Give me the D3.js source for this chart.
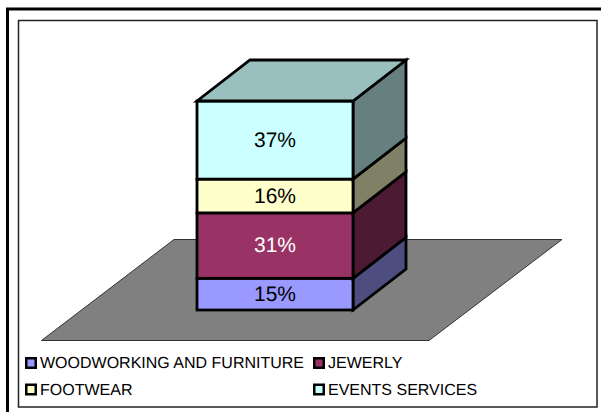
<!DOCTYPE html>
<html><head><meta charset="utf-8">
<script src="https://cdn.jsdelivr.net/npm/d3@7"></script>
<style>html,body{margin:0;padding:0;background:#fff}svg{display:block}text{font-family:"Liberation Sans",Arial,sans-serif;text-rendering:geometricPrecision}</style>
</head><body><svg id="c" width="601" height="412"></svg>
<script>
const categories = ["WOODWORKING AND FURNITURE", "JEWERLY", "FOOTWEAR", "EVENTS SERVICES"];
const values = [15, 31, 16, 37];
const labels = ["15%", "31%", "16%", "37%"];
const frontColors = ["#9999ff", "#993366", "#ffffcc", "#ccffff"];
const sideColors = ["#4d4d80", "#4d1a33", "#808066", "#668080"];
const topColor = "#99bfbf";
const labelColors = ["#000", "#fff", "#000", "#000"];

const svg = d3.select("#c");
svg.append("rect").attr("x",7.5).attr("y",9).attr("width",620).attr("height",430).attr("fill","#fff").attr("stroke","#000").attr("stroke-width",3);
svg.append("rect").attr("x",18.5).attr("y",20.5).attr("width",578.5).attr("height",386.5).attr("fill","#fff").attr("stroke","#222").attr("stroke-width",1.5);

const x0=197, x1=353, dx=53, dy=-41;
const y = d3.scaleLinear().domain([0, d3.sum(values)]).range([310, 101]);
const line = d3.line();

svg.append("path").attr("d", line([[41.5,340.5],[174,239.5],[562,239.5],[429,340.5]])+"Z")
  .attr("fill","#808080").attr("stroke","#333").attr("stroke-width",1);

let acc=0;
values.forEach((v,i)=>{
  const b=y(acc), t=y(acc+v);
  const g=svg.append("g").attr("stroke","#000").attr("stroke-width",2.8).attr("stroke-linejoin","miter");
  g.append("path").attr("d",line([[x1,b],[x1+dx,b+dy],[x1+dx,t+dy],[x1,t]])+"Z").attr("fill",sideColors[i]);
  g.append("rect").attr("x",x0).attr("y",t).attr("width",x1-x0).attr("height",b-t).attr("fill",frontColors[i]);
  if(i===values.length-1){
    g.append("path").attr("d",line([[x0,t],[x0+dx,t+dy],[x1+dx,t+dy],[x1,t]])+"Z").attr("fill",topColor);
  }
  svg.append("text").attr("x",(x0+x1)/2).attr("y",(t+b)/2+6.5).attr("text-anchor","middle")
    .attr("font-size",21).attr("fill",labelColors[i]).text(labels[i]);
  acc+=v;
});

const legendPos=[[25,363],[313,363],[25,389.5],[313,389.5]];
categories.forEach((c,i)=>{
  const [lx,ly]=legendPos[i];
  svg.append("rect").attr("x",lx+1.25).attr("y",ly-4.75).attr("width",9.5).attr("height",9.5).attr("fill",frontColors[i]).attr("stroke","#000").attr("stroke-width",2.5);
  svg.append("text").attr("x",lx+15).attr("y",ly+5.2).attr("font-size",16).attr("fill","#000").text(c);
});
</script></body></html>
